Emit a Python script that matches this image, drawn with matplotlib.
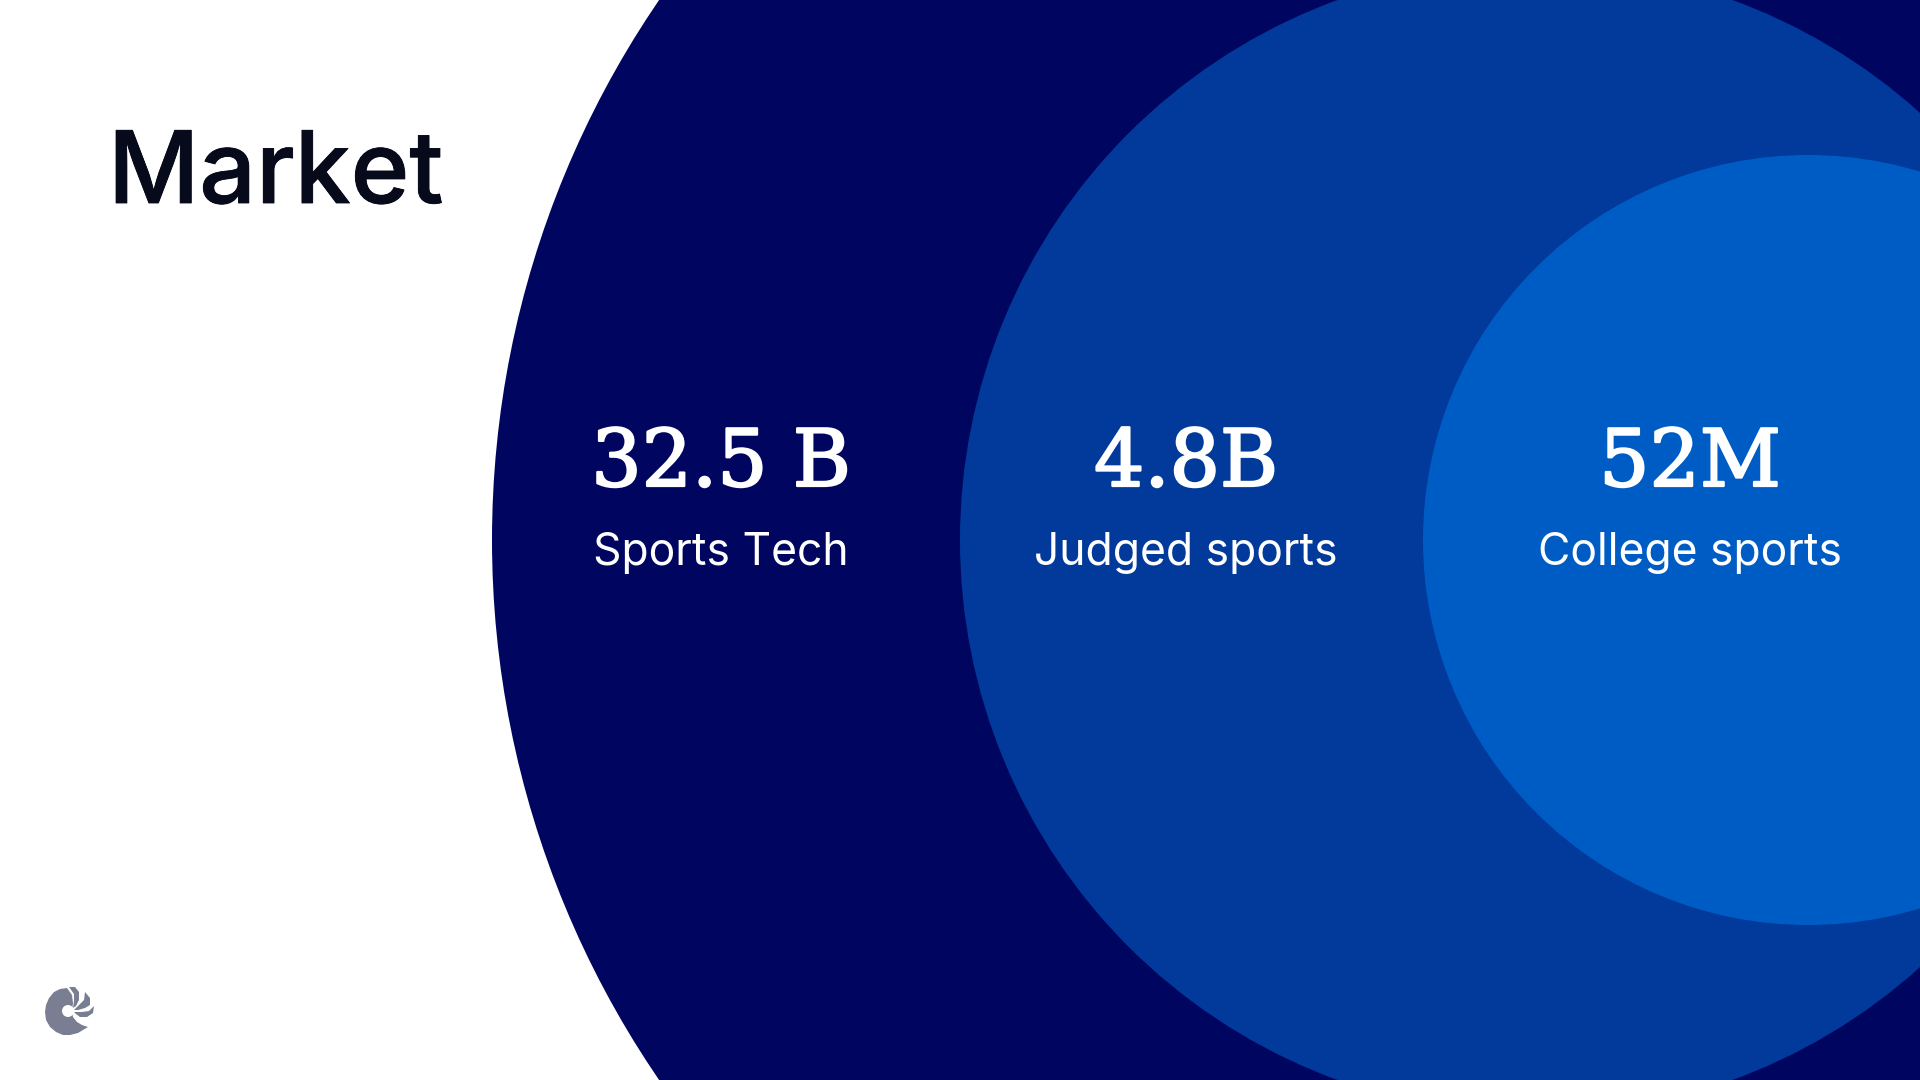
import matplotlib
matplotlib.use("Agg")
import matplotlib.pyplot as plt
import matplotlib.patheffects as pe
from matplotlib.patches import Circle, Polygon

title = "Market"
values = ["32.5 B", "4.8B", "52M"]
labels = ["Sports Tech", "Judged sports", "College sports"]

# layout, in pixels of the 1920x1080 slide
circle_x = [1448, 1535, 1808]
circle_r = [956, 575, 385]
circle_colors = ["#00065F", "#023A9C", "#005CC5"]
text_x = [721, 1186, 1690]

LOGO_GREY = "#7A7E92"

# logo outlines, in pixels
logo_body = [(67, 988), (60, 989), (54, 992), (49, 998), (46, 1005), (45, 1012), (46, 1020),
             (50, 1027), (56, 1032), (63, 1035), (70, 1035), (78, 1033), (88, 1027),
             (82, 1025), (77, 1022), (73, 1017), (72, 1011), (73, 1003), (72, 995)]
logo_petals = [
    [(69, 987), (75, 987), (79, 992), (79, 1000), (76, 1006), (73, 1008), (74, 1001), (74, 994)],
    [(85, 992), (90, 998), (90, 1005), (85, 1008), (78, 1010), (74, 1010), (79, 1005), (84, 1000)],
    [(94, 1006), (93, 1013), (87, 1017), (80, 1017), (76, 1014), (74, 1012), (82, 1012), (89, 1011)],
]

fig = plt.figure(figsize=(19.2, 10.8), dpi=100, facecolor="white")
ax = fig.add_axes([0, 0, 1, 1])
ax.set_xlim(0, 1920)
ax.set_ylim(1080, 0)
ax.axis("off")

for x, r, c in zip(circle_x, circle_r, circle_colors):
    ax.add_patch(Circle((x, 540), r, facecolor=c, edgecolor="none"))

head = ax.text(108, 203, title, fontsize=72, family="Inter", fontweight="medium",
               color="#060A1A", ha="left", va="baseline")
head.set_path_effects([pe.withStroke(linewidth=0.6, foreground="#060A1A")])

for x, v, l in zip(text_x, values, labels):
    num = ax.text(x, 486, v, fontsize=57, family="DejaVu Serif", color="white",
                  ha="center", va="baseline")
    # the numerals in the slide are a little heavier than the regular face
    num.set_path_effects([pe.withStroke(linewidth=1.6, foreground="white")])
    ax.text(x, 565, l, fontsize=32, family="Inter", color="white",
            ha="center", va="baseline")

ax.add_patch(Polygon(logo_body, closed=True, facecolor=LOGO_GREY, edgecolor="none"))
for petal in logo_petals:
    ax.add_patch(Polygon(petal, closed=True, facecolor=LOGO_GREY, edgecolor="none"))
ax.add_patch(Circle((68, 1011), 6, facecolor="white", edgecolor="none"))

fig.savefig("out.png", dpi=100)
